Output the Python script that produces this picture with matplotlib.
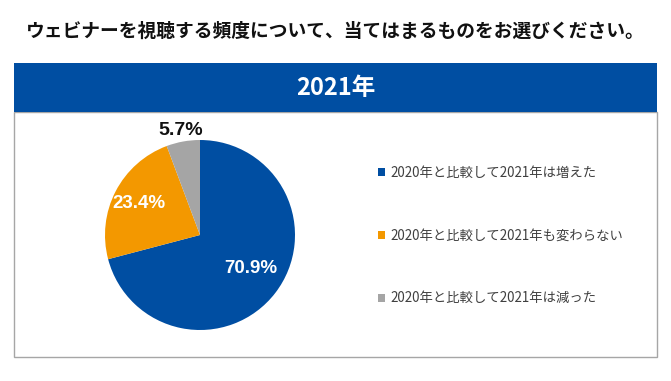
import matplotlib
matplotlib.use("Agg")
import matplotlib.pyplot as plt
from matplotlib.patches import Rectangle
import numpy as np

plt.rcParams['font.family'] = ['Noto Sans CJK JP', 'DejaVu Sans']

title = "ウェビナーを視聴する頻度について、当てはまるものをお選びください。"
year_label = "2021年"
categories = ["2020年と比較して2021年は増えた",
              "2020年と比較して2021年も変わらない",
              "2020年と比較して2021年は減った"]
values = [70.9, 23.4, 5.7]
colors = ["#004EA2", "#F39800", "#A5A5A5"]

W, H = 671, 381
fig = plt.figure(figsize=(W/100, H/100), dpi=100)

# overlay axes in pixel coordinates
bg = fig.add_axes([0, 0, 1, 1])
bg.set_xlim(0, W)
bg.set_ylim(H, 0)
bg.axis('off')
bg.add_patch(Rectangle((14, 112), 643, 245, facecolor='white', edgecolor='#A6A6A6', lw=1))
bg.add_patch(Rectangle((14, 63), 643, 49, facecolor='#004EA2', edgecolor='none'))
bg.text(W/2, 31, title, ha='center', va='center', fontsize=13.5, fontweight='bold', color='#111111')
bg.text(W/2, 88, year_label, ha='center', va='center', fontsize=17, fontweight='bold', color='white')

# pie
cx, cy, R = 200, 235, 95
pax = fig.add_axes([(cx-R)/W, (H-cy-R)/H, 2*R/W, 2*R/H])
wedges, _ = pax.pie(values, colors=colors, startangle=90, counterclock=False,
                    radius=1.0, wedgeprops=dict(linewidth=0))
pax.set_xlim(-1, 1)
pax.set_ylim(-1, 1)
pax.set_aspect('equal')
pax.axis('off')

dists = [0.64, 0.72, 1.12]
offsets = [4, 0, 0]
tcolors = ['white', 'white', '#111111']
sizes = [13.5, 13.5, 14]
for w, v, d, off, tc, fs in zip(wedges, values, dists, offsets, tcolors, sizes):
    ang = np.deg2rad((w.theta1 + w.theta2) / 2 + off)
    pax.text(d*np.cos(ang), d*np.sin(ang), f"{v:.1f}%", ha='center', va='center',
             fontsize=fs, fontweight='bold', color=tc, clip_on=False,
             family=['Liberation Sans', 'DejaVu Sans'])

leg = fig.legend(wedges, categories, loc='upper left',
                 bbox_to_anchor=(366/W, 1-154/H), frameon=False,
                 fontsize=9.6, handlelength=0.55, handleheight=0.55, handletextpad=0.35,
                 labelspacing=3.65, labelcolor='#404040')

fig.savefig('out.png', dpi=100)
